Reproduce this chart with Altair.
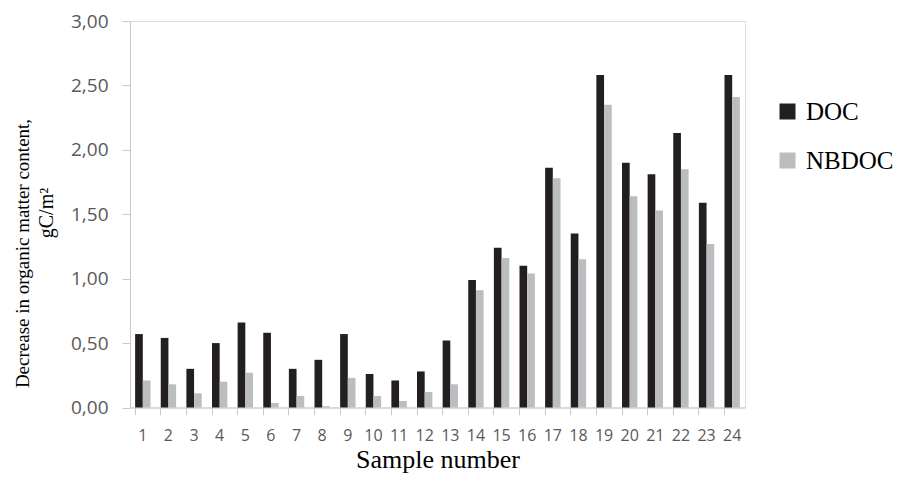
import altair as alt
import pandas as pd

samples = ["1", "2", "3", "4", "5", "6", "7", "8", "9", "10", "11", "12",
           "13", "14", "15", "16", "17", "18", "19", "20", "21", "22", "23", "24"]
doc = [0.57, 0.54, 0.30, 0.50, 0.66, 0.58, 0.30, 0.37, 0.57, 0.26, 0.21, 0.28,
       0.52, 0.99, 1.24, 1.10, 1.86, 1.35, 2.58, 1.90, 1.81, 2.13, 1.59, 2.58]
nbdoc = [0.21, 0.18, 0.11, 0.20, 0.27, 0.035, 0.09, 0.01, 0.23, 0.09, 0.05, 0.12,
         0.18, 0.91, 1.16, 1.04, 1.78, 1.15, 2.35, 1.64, 1.53, 1.85, 1.27, 2.41]
series = ["DOC", "NBDOC"]
colors = ["#231f20", "#bcbdc0"]
y_ticks = [0, 0.5, 1.0, 1.5, 2.0, 2.5, 3.0]

rows = []
for s, d, n in zip(samples, doc, nbdoc):
    rows.append({"sample": s, "series": "DOC", "value": d})
    rows.append({"sample": s, "series": "NBDOC", "value": n})
df = pd.DataFrame(rows)

bars = alt.Chart(df).mark_bar().encode(
    x=alt.X("sample:N", sort=samples,
            scale=alt.Scale(paddingInner=0.4, paddingOuter=0.2),
            axis=alt.Axis(title="Sample number", labelAngle=0, bandPosition=0,
                          labelFont="Open Sans", labelFontSize=16, labelColor="#595959",
                          labelPadding=13, tickSize=7, tickColor="#c8c8c8",
                          domainColor="#c8c8c8", titleFont="Liberation Serif",
                          titleFontSize=26, titleFontWeight="normal", titleColor="#000000",
                          titleX=307.5, titleY=60, titleBaseline="alphabetic",
                          titleAlign="center", grid=False)),
    xOffset=alt.XOffset("series:N", sort=series, scale=alt.Scale(paddingInner=0, paddingOuter=0)),
    y=alt.Y("value:Q", scale=alt.Scale(domain=[0, 3], nice=False),
            axis=alt.Axis(title="Decrease in organic matter content,", values=y_ticks,
                          labelExpr="replace(format(datum.value, '.2f'), '.', ',')",
                          labelFont="Open Sans", labelFontSize=19, labelColor="#595959",
                          labelPadding=14, tickSize=8, tickColor="#c8c8c8",
                          domainColor="#c8c8c8", titleFont="Liberation Serif",
                          titleFontSize=19, titleFontWeight="normal", titleColor="#000000",
                          titleAngle=270, titleX=-102, titleY=232, titleAlign="center",
                          titleBaseline="alphabetic", grid=False)),
    color=alt.Color("series:N", sort=series,
                    scale=alt.Scale(domain=series, range=colors),
                    legend=alt.Legend(title=None, orient="none", legendX=645, legendY=78,
                                      symbolType="square", symbolSize=256,
                                      symbolStrokeWidth=0, symbolOpacity=1,
                                      labelFont="Liberation Serif", labelFontSize=25,
                                      labelColor="#000000", labelOffset=6,
                                      labelLimit=200,
                                      rowPadding=23, padding=0)),
)

unit = alt.Chart(pd.DataFrame({"t": ["gC/m²"]})).mark_text(
    font="Liberation Serif", fontSize=20, color="#000000", angle=270,
    align="center", baseline="alphabetic"
).encode(text="t:N", x=alt.value(-77), y=alt.value(192))

chart = alt.layer(bars, unit).properties(
    width=615, height=386.5,
    autosize=alt.AutoSizeParams(type="none"),
    padding={"left": 122, "top": 13, "right": 156, "bottom": 66},
).configure_view(stroke=None).configure(background="#ffffff")

chart.save("out.html", embed_options={"renderer": "svg", "actions": False})
